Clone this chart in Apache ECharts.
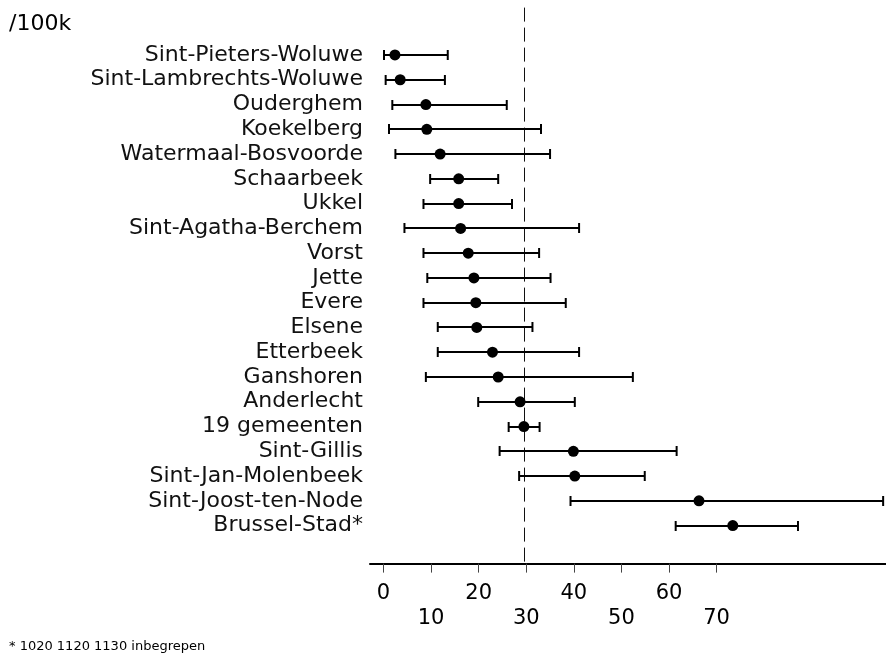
<!DOCTYPE html>
<html>
<head>
<meta charset="utf-8">
<script src="https://cdn.jsdelivr.net/npm/echarts@6/dist/echarts.min.js"></script>
<style>html,body{margin:0;padding:0;background:#fff}#c{width:886px;height:655px}</style>
</head>
<body>
<div id="c"></div>
<script>
const categories = ['Sint-Pieters-Woluwe','Sint-Lambrechts-Woluwe','Ouderghem','Koekelberg','Watermaal-Bosvoorde','Schaarbeek','Ukkel','Sint-Agatha-Berchem','Vorst','Jette','Evere','Elsene','Etterbeek','Ganshoren','Anderlecht','19 gemeenten','Sint-Gillis','Sint-Jan-Molenbeek','Sint-Joost-ten-Node','Brussel-Stad*'];
const estimate = [2.4, 3.5, 8.9, 9.1, 11.9, 15.8, 15.8, 16.2, 17.8, 19.0, 19.4, 19.6, 22.9, 24.1, 28.7, 29.5, 39.9, 40.2, 66.3, 73.4];
const lower = [0.1, 0.45, 1.85, 1.15, 2.5, 9.8, 8.4, 4.4, 8.4, 9.2, 8.4, 11.4, 11.4, 8.9, 19.9, 26.3, 24.4, 28.5, 39.3, 61.4];
const upper = [13.5, 12.9, 25.9, 33.1, 35.0, 24.1, 27.0, 41.1, 32.7, 35.1, 38.3, 31.3, 41.1, 52.4, 40.2, 32.8, 61.6, 54.9, 105.0, 87.1];
const referenceValue = [29.5];
const ticksRowA = [0, 20, 40, 60];
const ticksRowB = [10, 30, 50, 70];
const allTicks = [0, 10, 20, 30, 40, 50, 60, 70];

const FONT = 'DejaVu Sans';
const chart = echarts.init(document.getElementById('c'), null, {renderer: 'canvas'});
const xMin = -2.84, xMax = 105.6;
const axisOffset = 25.6;

chart.setOption({
  animation: false,
  backgroundColor: '#fff',
  textStyle: {fontFamily: FONT},
  grid: {left: 370, top: 42.6, width: 516, height: 495.4, containLabel: false},
  xAxis: [{
    type: 'value', min: xMin, max: xMax, position: 'bottom', offset: axisOffset,
    splitLine: {show: false},
    axisLine: {show: true, lineStyle: {color: '#000', width: 2}},
    axisTick: {show: true, customValues: allTicks, length: 9, lineStyle: {color: '#444', width: 1}},
    axisLabel: {customValues: ticksRowA, margin: 19, fontSize: 21, color: '#000', fontFamily: FONT}
  }, {
    type: 'value', min: xMin, max: xMax, position: 'bottom', offset: axisOffset,
    splitLine: {show: false},
    axisLine: {show: false}, axisTick: {show: false},
    axisLabel: {customValues: ticksRowB, margin: 44.5, fontSize: 21, color: '#000', fontFamily: FONT}
  }],
  yAxis: {
    type: 'category', data: categories, inverse: true,
    axisLine: {show: false}, axisTick: {show: false}, splitLine: {show: false},
    axisLabel: {interval: 0, margin: 7, fontSize: 22, color: '#111', fontFamily: FONT}
  },
  graphic: [
    {type: 'text', left: 9, top: 13, style: {text: '/100k', fontSize: 22, fontFamily: FONT, fill: '#000'}},
    {type: 'text', left: 9, bottom: 2, style: {text: '* 1020 1120 1130 inbegrepen', fontSize: 13, fontFamily: FONT, fill: '#000'}}
  ],
  series: [
    {
      type: 'custom', xAxisIndex: 0, clip: false, silent: true,
      data: referenceValue.map(v => [v]),
      encode: {x: 0},
      renderItem: function (params, api) {
        const x = Math.round(api.coord([api.value(0), 0])[0]) + 0.5;
        const cs = params.coordSys;
        return {type: 'line', shape: {x1: x, y1: cs.y - 35, x2: x, y2: cs.y + cs.height + axisOffset},
          style: {stroke: '#111', lineWidth: 1, lineDash: [14, 6]}};
      }
    },
    {
      type: 'custom', xAxisIndex: 0, clip: false, silent: true,
      data: categories.map((c, i) => [i, lower[i], upper[i]]),
      encode: {y: 0, x: [1, 2]},
      renderItem: function (params, api) {
        const i = api.value(0);
        const p1 = api.coord([api.value(1), i]);
        const p2 = api.coord([api.value(2), i]);
        const y = Math.round(p1[1]);
        const h = 5;
        const st = {stroke: '#000', lineWidth: 2};
        return {type: 'group', children: [
          {type: 'line', shape: {x1: p1[0], y1: y, x2: p2[0], y2: y}, style: st},
          {type: 'line', shape: {x1: p1[0], y1: y - h, x2: p1[0], y2: y + h}, style: st},
          {type: 'line', shape: {x1: p2[0], y1: y - h, x2: p2[0], y2: y + h}, style: st}
        ]};
      }
    },
    {
      type: 'scatter', xAxisIndex: 0, symbol: 'circle', symbolSize: 11,
      itemStyle: {color: '#000', opacity: 1},
      data: estimate.map((v, i) => [v, i])
    }
  ]
});
</script>
</body>
</html>
